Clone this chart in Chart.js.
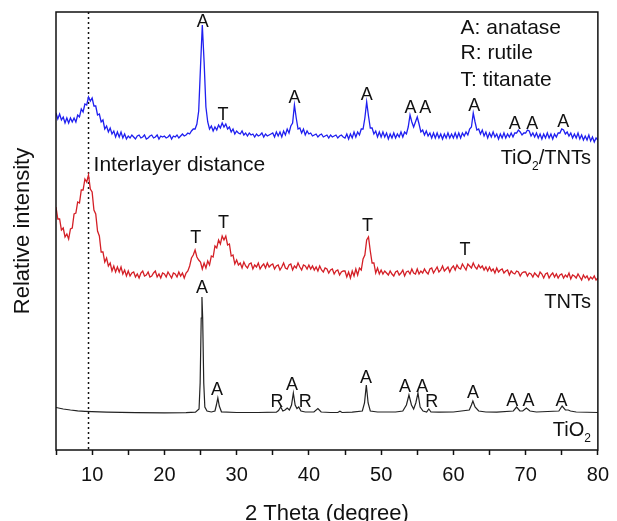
<!DOCTYPE html>
<html>
<head>
<meta charset="utf-8">
<script src="https://cdn.jsdelivr.net/npm/chart.js@4.4.0/dist/chart.umd.min.js"></script>
<style>
  body { margin: 0; background: #fff; }
  #wrap { width: 617px; height: 521px; }
</style>
</head>
<body>
<div id="wrap"><canvas id="xrd"></canvas></div>
<script>
// the two noisy scans share one 2θ grid: 5° to 80° in 0.25° steps
const scanStart = 5;
const scanStep = 0.25;

// TiO2/TNTs scan, counts above its own baseline (a.u.)
const tntTiO2Counts = [
    24, 18, 23, 17, 20, 14, 19, 14, 19, 15, 19, 15, 22, 20, 28, 25, 33, 32, 40, 36,
    39, 31, 31, 22, 23, 15, 17, 8, 11, 5, 9, 3, 6, 0, 5, 0, 5, -1, 3, -2,
    1, -1, 2, 0, -2, 1, 2, -1, 0, 2, -2, -1, 1, 2, -1, 0, 2, -2, 1, 0,
    1, -1, 0, 2, -2, 1, 0, 2, -1, 1, 3, 1, 2, 4, 3, 6, 8, 8, 13, 26,
    70, 112, 75, 30, 15, 8, 11, 6, 10, 7, 12, 9, 14, 10, 13, 8, 10, 5, 8, 3,
    6, 4, 3, 6, 2, 4, 1, 4, 2, 3, 0, 3, 1, 2, 4, 0, 3, 1, 2, 3,
    4, 0, 5, 1, 5, 0, 6, 2, 8, 4, 11, 14, 32, 19, 8, 9, 4, 8, 2, 6,
    3, 4, 1, 2, 3, 0, 2, 3, 0, 1, 2, -1, 2, 0, 1, 2, -1, 1, 2, 0,
    -1, 3, -2, 3, -1, 5, 0, 5, 2, 8, 8, 19, 35, 21, 9, 9, 3, 6, 0, 5,
    0, 5, 0, 4, -2, 3, -1, 4, -1, 3, 0, 5, 0, 5, 3, 10, 22, 15, 10, 15,
    20, 13, 5, 7, 2, 6, 1, 4, -1, 4, -1, 4, -1, 3, -2, 3, -1, 4, -1, 3,
    -1, 4, -1, 4, -1, 4, 1, 5, 2, 8, 10, 24, 15, 7, 8, 3, 7, 1, 5, -1,
    4, 0, 5, 0, 3, -2, 3, -1, 4, -1, 3, 0, 4, 0, 4, 4, 7, 5, 2, 4,
    4, 7, 6, 1, 4, 0, 4, -1, 3, -2, 3, -1, 4, -1, 3, -2, 3, 0, 4, 4,
    8, 7, 3, 5, 1, 4, -1, 3, -1, 4, -2, 2, -3, 1, -3, 2, -4, 0, -5, -1, -3
];

// TNTs scan
const tntCounts = [
    68, 56, 56, 45, 47, 38, 41, 36, 46, 47, 61, 62, 73, 72, 85, 85, 96, 93, 100, 86,
    83, 65, 61, 44, 39, 23, 23, 13, 17, 9, 12, 4, 9, 3, 8, 3, 8, 1, 5, -1,
    4, -1, 2, 3, -2, 1, -3, 2, 4, -1, 0, 3, -2, -1, 2, 4, -2, 1, -3, 2,
    1, -2, 3, 0, -3, 2, 1, -2, 3, -1, 2, -3, 2, 4, 9, 17, 20, 25, 18, 15,
    13, 6, 12, 7, 14, 10, 19, 18, 29, 27, 35, 31, 39, 35, 39, 30, 31, 19, 20, 11,
    15, 10, 12, 7, 13, 9, 7, 11, 12, 6, 10, 8, 12, 6, 9, 11, 7, 12, 8, 10,
    11, 6, 9, 10, 5, 8, 12, 7, 6, 10, 11, 5, 9, 7, 12, 8, 5, 10, 9, 6,
    10, 6, 9, 5, 8, 4, 9, 5, 3, 7, 6, 2, 5, 6, 1, 4, 5, 0, 3, 4,
    4, -2, 3, -3, 4, -1, 6, 0, 7, 5, 16, 20, 35, 38, 24, 12, 12, 2, 7, 1,
    5, 1, 4, 2, 0, 4, 1, -1, 3, 4, 0, 2, 5, -1, 3, 4, 1, 6, 2, 1,
    6, 1, 4, 2, 6, 3, 1, 6, 7, 2, 5, 8, 3, 5, 9, 4, 6, 8, 3, 7,
    9, 5, 10, 7, 6, 11, 8, 5, 11, 9, 7, 12, 8, 6, 10, 7, 9, 5, 8, 4,
    8, 4, 6, 2, 7, 3, 5, 6, 2, 4, 5, 0, 4, 2, 1, 4, 3, -1, 2, 3,
    3, -1, 2, 1, -2, 2, 0, -2, 3, 1, -3, 1, 2, -3, 0, 2, -2, 1, -3, 0,
    1, -3, 0, -2, 2, -4, 0, -1, -3, 1, -2, -5, 0, -3, -1, -5, -2, -4, -1, -5, -3
];

// TiO2 (P25) scan, smooth, sampled around its reflections
const tio2Theta = [
    5, 6, 7, 8, 9, 10, 12, 16, 20, 23,
    24.3, 24.8, 24.95, 25.1, 25.2, 25.3, 25.45, 25.6, 25.9, 26.5,
    27.0, 27.2, 27.4, 27.6, 27.9, 30, 33, 35.5, 35.8, 36.1,
    36.4, 36.7, 37.0, 37.3, 37.6, 37.85, 38.1, 38.35, 38.6, 38.9,
    39.5, 40.7, 41.25, 41.7, 43, 44, 44.3, 44.6, 46, 47.4,
    47.7, 47.95, 48.2, 48.5, 49.5, 52, 53.0, 53.5, 53.85, 54.2,
    54.5, 54.8, 55.1, 55.4, 55.8, 56.3, 56.6, 56.9, 58, 60,
    62.2, 62.5, 62.7, 63.0, 63.5, 64.5, 66, 68.3, 68.75, 69.2,
    69.6, 70.1, 70.6, 71.5, 74.6, 75.05, 75.5, 75.9, 76.2, 77,
    80
];
const tio2Counts = [
    5.5, 4, 3, 2.2, 1.7, 1.3, 0.8, 0.4, 0.2, 0.3,
    0.8, 4, 30, 95, 116, 95, 30, 6, 2, 1,
    2, 8, 15, 7, 1.2, 0.5, 0.5, 0.8, 2.5, 6,
    2, 3, 5, 3, 8, 20, 8, 4.5, 6, 2,
    1, 1, 4.5, 1, 0.5, 0.5, 1.8, 0.5, 0.8, 2,
    10, 28, 10, 2, 1, 1, 2, 8, 18, 8,
    4, 10, 20, 6, 2, 1, 4, 1, 0.8, 1,
    3, 8, 12, 6, 2, 1, 0.8, 2, 6, 2,
    2, 5, 2, 1, 2, 7, 3, 3, 2, 1,
    0.5
];

// phase marks: [letter, 2θ, height in the scan's own units]
const tntTiO2Marks = [
    ['A', 25.3, 115], ['T', 28.1, 22], ['A', 38.0, 39], ['A', 48.0, 42],
    ['A', 54.05, 29], ['A', 56.1, 29], ['A', 62.9, 31], ['A', 68.5, 13],
    ['A', 70.9, 13], ['A', 75.2, 15]
];
const tntMarks = [
    ['T', 24.35, 37], ['T', 28.2, 52], ['T', 48.1, 49], ['T', 61.6, 25]
];
const tio2Marks = [
    ['A', 25.2, 125], ['A', 27.3, 23], ['R', 35.6, 11], ['A', 37.65, 28],
    ['R', 39.5, 11], ['A', 47.9, 35], ['A', 53.3, 26], ['A', 55.7, 26],
    ['R', 57.0, 11], ['A', 62.7, 20], ['A', 68.15, 12], ['A', 70.4, 12],
    ['A', 74.95, 12]
];

const phaseKey = ['A: anatase', 'R: rutile', 'T: titanate'];
const interlayerTheta = 9.5;

// vertical stacking of the three scans
const lift = { tio2: 37, tnt: 175, tntTiO2: 313 };
const fontFamily = "'Liberation Sans', Arial, sans-serif";

function gridPoints(counts, offset) {
    return counts.map((c, i) => ({ x: scanStart + i * scanStep, y: c + offset }));
}

function pairPoints(theta, counts, offset) {
    return theta.map((t, i) => ({ x: t, y: counts[i] + offset }));
}

// draws text made of plain and subscript parts
function drawParts(ctx, parts, x, y, align, size) {
    const subSize = Math.round(size * 0.6);
    let width = 0;
    for (const [t, sub] of parts) {
        ctx.font = (sub ? subSize : size) + 'px ' + fontFamily;
        width += ctx.measureText(t).width;
    }
    let cx = align === 'right' ? x - width : (align === 'center' ? x - width / 2 : x);
    ctx.textAlign = 'left';
    ctx.textBaseline = 'middle';
    for (const [t, sub] of parts) {
        ctx.font = (sub ? subSize : size) + 'px ' + fontFamily;
        ctx.fillText(t, cx, sub ? y + size * 0.42 : y);
        cx += ctx.measureText(t).width;
    }
}

const decorations = {
    id: 'decorations',
    beforeDatasetsDraw(chart) {
        const { ctx, chartArea, scales } = chart;
        const px = scales.x.getPixelForValue(interlayerTheta);
        ctx.save();
        ctx.strokeStyle = '#111';
        ctx.lineWidth = 1.5;
        ctx.setLineDash([2, 3]);
        ctx.beginPath();
        ctx.moveTo(px, chartArea.top);
        ctx.lineTo(px, chartArea.bottom);
        ctx.stroke();
        ctx.restore();
    },
    afterDatasetsDraw(chart) {
        const { ctx, chartArea, scales } = chart;
        const x = scales.x, y = scales.y;
        ctx.save();
        ctx.strokeStyle = '#111';
        ctx.lineWidth = 1.5;
        ctx.strokeRect(chartArea.left, chartArea.top,
            chartArea.right - chartArea.left, chartArea.bottom - chartArea.top);

        ctx.fillStyle = '#111';
        const marks = [[tntTiO2Marks, lift.tntTiO2], [tntMarks, lift.tnt], [tio2Marks, lift.tio2]];
        for (const [list, off] of marks) {
            for (const [txt, t, h] of list) {
                drawParts(ctx, [[txt, false]], x.getPixelForValue(t), y.getPixelForValue(h + off), 'center', 18);
            }
        }

        // scan names at the right edge
        const nameX = x.getPixelForValue(79.05);
        drawParts(ctx, [['TiO', false], ['2', true], ['/TNTs', false]], nameX, y.getPixelForValue(lift.tntTiO2 - 21), 'right', 20);
        drawParts(ctx, [['TNTs', false]], nameX, y.getPixelForValue(lift.tnt - 27), 'right', 20);
        drawParts(ctx, [['TiO', false], ['2', true]], nameX, y.getPixelForValue(lift.tio2 - 17), 'right', 20);

        drawParts(ctx, [['Interlayer distance', false]], x.getPixelForValue(10.2), y.getPixelForValue(lift.tnt + 110), 'left', 21);

        // phase key, top right
        const keyLevels = [422, 397, 370];
        phaseKey.forEach((line, i) => {
            drawParts(ctx, [[line, false]], x.getPixelForValue(61.0), y.getPixelForValue(keyLevels[i]), 'left', 21);
        });
        ctx.restore();
    }
};

const lineStyle = { borderWidth: 1.3, pointRadius: 0, tension: 0, fill: false };

new Chart(document.getElementById('xrd'), {
    type: 'line',
    data: {
        datasets: [
            { ...lineStyle, label: 'TiO2/TNTs', data: gridPoints(tntTiO2Counts, lift.tntTiO2), borderColor: '#1f1ff0' },
            { ...lineStyle, label: 'TNTs', data: gridPoints(tntCounts, lift.tnt), borderColor: '#d41f26' },
            { ...lineStyle, borderWidth: 1.2, label: 'TiO2', data: pairPoints(tio2Theta, tio2Counts, lift.tio2), borderColor: '#222' }
        ]
    },
    options: {
        responsive: true,
        maintainAspectRatio: false,
        animation: false,
        layout: { padding: { left: 0, right: 13, top: 12, bottom: 0 } },
        plugins: { legend: { display: false }, tooltip: { enabled: false } },
        scales: {
            x: {
                type: 'linear',
                min: 5,
                max: 80,
                afterFit: (scale) => { scale.height = 71; },
                border: { display: false },
                grid: { drawOnChartArea: false, drawTicks: true, tickLength: 5, tickColor: '#111', tickWidth: 1.5 },
                ticks: {
                    stepSize: 5,
                    autoSkip: false,
                    maxRotation: 0,
                    padding: 8,
                    color: '#111',
                    font: { family: fontFamily, size: 20 },
                    callback: (v) => (v % 10 === 0 ? v : '')
                },
                title: {
                    display: true,
                    text: '2 Theta (degree)',
                    color: '#111',
                    font: { family: fontFamily, size: 22, lineHeight: 1 },
                    padding: { top: -4, bottom: -4 }
                }
            },
            y: {
                min: 0,
                max: 438,
                afterFit: (scale) => { scale.width = 56; },
                border: { display: false },
                grid: { display: false },
                ticks: { display: false },
                title: {
                    display: true,
                    text: 'Relative intensity',
                    color: '#111',
                    font: { family: fontFamily, size: 22, lineHeight: 1.2 },
                    padding: { top: 10, bottom: 0 }
                }
            }
        }
    },
    plugins: [decorations]
});
</script>
</body>
</html>
